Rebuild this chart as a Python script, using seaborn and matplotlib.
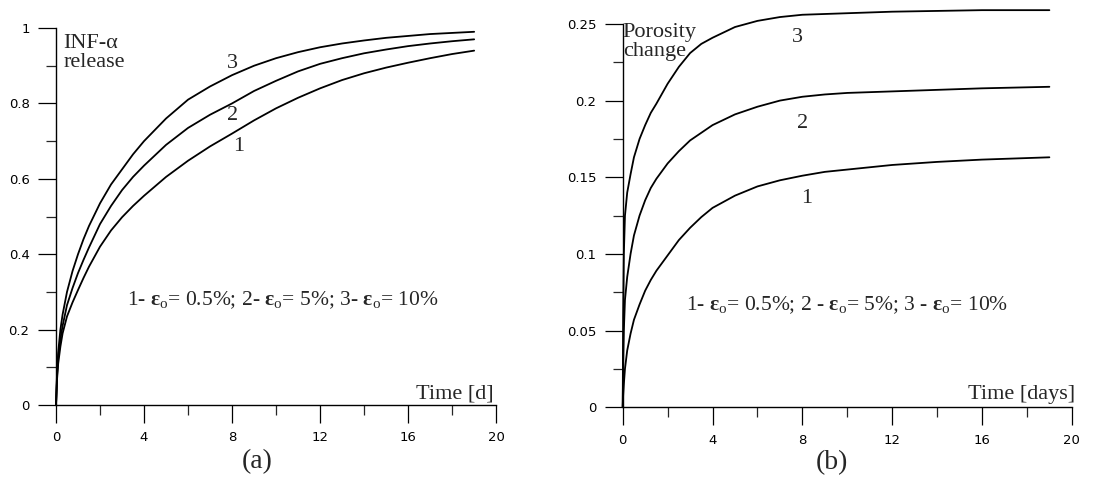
import numpy as np
import pandas as pd
import matplotlib
matplotlib.use("Agg")
import matplotlib.pyplot as plt
import seaborn as sns
from matplotlib.ticker import MultipleLocator

# (a) INF-alpha release
time_a = [0, 0.05, 0.1, 0.2, 0.3, 0.5, 0.75, 1, 1.25, 1.5, 2, 2.5, 3, 3.5, 4,
          5, 6, 7, 8, 9, 10, 11, 12, 13, 14, 15, 16, 17, 18, 19]
rel_1 = [0, 0.07, 0.11, 0.155, 0.19, 0.235, 0.272, 0.305, 0.337, 0.367, 0.42, 0.463, 0.498, 0.528, 0.555,
         0.605, 0.648, 0.686, 0.72, 0.755, 0.787, 0.815, 0.84, 0.862, 0.88, 0.895, 0.908, 0.92, 0.931, 0.94]
rel_2 = [0, 0.08, 0.125, 0.175, 0.21, 0.265, 0.31, 0.35, 0.385, 0.418, 0.48, 0.528, 0.57, 0.605, 0.635,
         0.69, 0.735, 0.77, 0.80, 0.833, 0.86, 0.885, 0.905, 0.92, 0.933, 0.943, 0.952, 0.959, 0.965, 0.97]
rel_3 = [0, 0.09, 0.14, 0.20, 0.24, 0.30, 0.355, 0.40, 0.44, 0.475, 0.535, 0.585, 0.625, 0.665, 0.70,
         0.76, 0.81, 0.845, 0.875, 0.90, 0.92, 0.936, 0.949, 0.959, 0.967, 0.974, 0.979, 0.984, 0.987, 0.99]

# (b) porosity change
time_b = [0, 0.02, 0.05, 0.1, 0.2, 0.35, 0.5, 0.75, 1, 1.25, 1.5, 2, 2.5, 3, 3.5, 4,
          5, 6, 7, 8, 9, 10, 12, 14, 16, 19]
por_1 = [0, 0.008, 0.015, 0.025, 0.037, 0.048, 0.057, 0.067, 0.076, 0.083, 0.089, 0.099, 0.109, 0.117, 0.124, 0.130,
         0.138, 0.144, 0.148, 0.151, 0.1535, 0.155, 0.158, 0.160, 0.1615, 0.163]
por_2 = [0, 0.03, 0.05, 0.07, 0.085, 0.10, 0.112, 0.125, 0.135, 0.143, 0.149, 0.159, 0.167, 0.174, 0.179, 0.184,
         0.191, 0.196, 0.20, 0.2025, 0.204, 0.205, 0.206, 0.207, 0.208, 0.209]
por_3 = [0, 0.06, 0.10, 0.125, 0.14, 0.152, 0.163, 0.175, 0.184, 0.192, 0.198, 0.211, 0.222, 0.231, 0.237, 0.241,
         0.248, 0.252, 0.2545, 0.256, 0.2565, 0.257, 0.258, 0.2585, 0.259, 0.259]

curve_names = ['1', '2', '3']
xticks = [0, 4, 8, 12, 16, 20]
yticks_a = [0, 0.2, 0.4, 0.6, 0.8, 1]
yticks_b = [0, 0.05, 0.1, 0.15, 0.2, 0.25]

sns.set_style("ticks")
plt.rcParams['font.family'] = ['DejaVu Sans']
plt.rcParams['mathtext.fontset'] = 'custom'
plt.rcParams['mathtext.rm'] = 'Liberation Serif'
plt.rcParams['mathtext.it'] = 'Liberation Serif:italic'
plt.rcParams['mathtext.bf'] = 'Liberation Serif:bold'
serif = ['Liberation Serif', 'DejaVu Serif']

def long_df(t, series):
    rows = []
    for name, vals in zip(curve_names, series):
        rows.append(pd.DataFrame({'t': t, 'v': vals, 'curve': name}))
    return pd.concat(rows, ignore_index=True)

df_a = long_df(time_a, [rel_1, rel_2, rel_3])
df_b = long_df(time_b, [por_1, por_2, por_3])

fig = plt.figure(figsize=(11.2, 4.79), dpi=100)
ax1 = fig.add_axes([0.050, 0.1545, 0.393, 0.787])
ax2 = fig.add_axes([0.556, 0.150, 0.401, 0.800])

pal = {'1': 'black', '2': 'black', '3': 'black'}
for ax, d in [(ax1, df_a), (ax2, df_b)]:
    sns.lineplot(data=d, x='t', y='v', hue='curve', palette=pal, ax=ax,
                 legend=False, linewidth=1.3, sort=False, clip_on=False)
    sns.despine(ax=ax)
    ax.set_xlim(0, 20)
    ax.set_xlabel('')
    ax.set_ylabel('')
    ax.set_xticks(xticks)
    ax.xaxis.set_minor_locator(MultipleLocator(2))
    ax.tick_params(which='major', length=13, width=0.9, labelsize=9.5, colors='black', pad=6)
    ax.tick_params(which='minor', length=7, width=0.9)
    for s in ax.spines.values():
        s.set_linewidth(1.0)
        s.set_color('black')

eps = r'$\mathbf{ε}_{\rm o}$'

# panel (a)
ax1.set_ylim(0, 1)
ax1.set_yticks(yticks_a)
ax1.set_yticklabels(['0', '0.2', '0.4', '0.6', '0.8', '1'])
ax1.yaxis.set_minor_locator(MultipleLocator(0.1))
ax1.text(0.35, 0.985, 'INF-\u03b1\nrelease', family=serif, fontsize=16, va='top', ha='left', linespacing=1.0)
ax1.text(8.0, 0.895, '3', family=serif, fontsize=16, ha='center')
ax1.text(8.0, 0.755, '2', family=serif, fontsize=16, ha='center')
ax1.text(8.3, 0.675, '1', family=serif, fontsize=16, ha='center')
ax1.text(10.3, 0.265, '1- ' + eps + '= 0.5%; 2- ' + eps + '= 5%; 3- ' + eps + '= 10%',
         family=serif, fontsize=15.5, ha='center')
ax1.text(19.9, 0.018, 'Time [d]', family=serif, fontsize=16, ha='right')
ax1.text(0.457, -0.151, '(a)', transform=ax1.transAxes, family=serif, fontsize=20, ha='center', va='center')

# panel (b)
ax2.set_ylim(0, 0.25)
ax2.set_yticks(yticks_b)
ax2.set_yticklabels(['0', '0.05', '0.1', '0.15', '0.2', '0.25'])
ax2.yaxis.set_minor_locator(MultipleLocator(0.025))
ax2.text(0.0, 0.2505, 'Porosity\nchange', family=serif, fontsize=16, va='top', ha='left', linespacing=1.0)
ax2.text(7.8, 0.238, '3', family=serif, fontsize=16, ha='center')
ax2.text(8.0, 0.182, '2', family=serif, fontsize=16, ha='center')
ax2.text(8.2, 0.133, '1', family=serif, fontsize=16, ha='center')
ax2.text(10.0, 0.063, '1- ' + eps + '= 0.5%; 2 - ' + eps + '= 5%; 3 - ' + eps + '= 10%',
         family=serif, fontsize=15.5, ha='center')
ax2.text(20.15, 0.005, 'Time [days]', family=serif, fontsize=16, ha='right')
ax2.text(0.465, -0.144, '(b)', transform=ax2.transAxes, family=serif, fontsize=20, ha='center', va='center')

fig.savefig('out.png', dpi=100)
